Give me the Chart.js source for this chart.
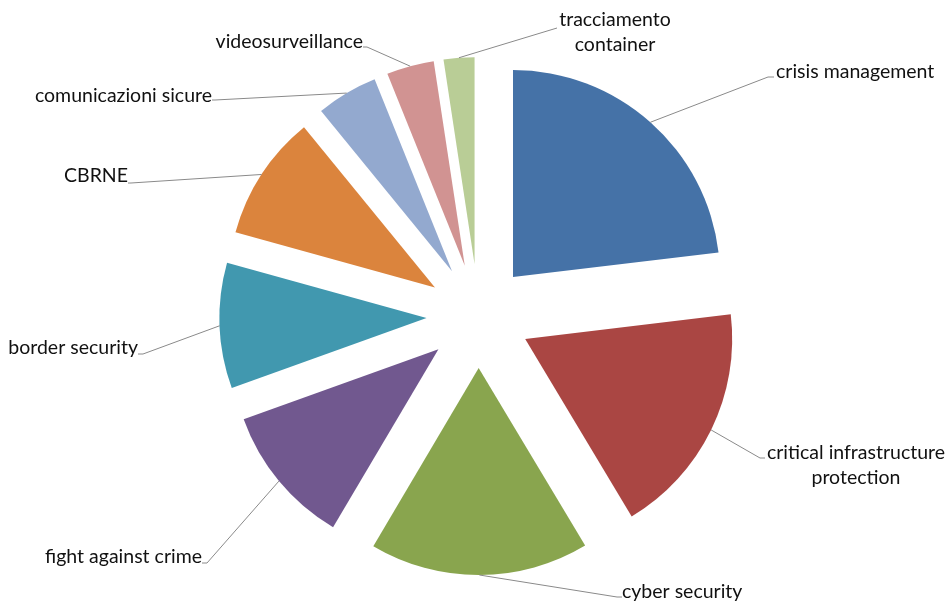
<!DOCTYPE html>
<html>
<head>
<meta charset="utf-8">
<script src="https://cdn.jsdelivr.net/npm/chart.js@4.4.1/dist/chart.umd.min.js"></script>
<style>
  html, body { margin: 0; padding: 0; background: #fff; }
  #wrap { width: 950px; height: 604px; position: relative; }
</style>
</head>
<body>
<div id="wrap"><canvas id="torta"></canvas></div>
<script>
// categorie (testo delle etichette, a capo dove serve)
const categorie = [
  "crisis management",
  ["critical infrastructure", "protection"],
  "cyber security",
  "fight against crime",
  "border security",
  "CBRNE",
  "comunicazioni sicure",
  "videosurveillance",
  ["tracciamento", "container"]
];
// quote (%)
const quote = [23.1, 18.3, 17.1, 11.0, 9.8, 9.8, 4.8, 3.7, 2.4];
const colori = ["#4572A7", "#AA4643", "#89A54E", "#71588F", "#4198AF",
                "#DB843D", "#93A9CF", "#D19392", "#B9CD96"];

// posizione delle etichette rispetto al centro della torta (come in Excel)
const layoutEtichette = [
  { end: [289.5, -239], tick: 6,  text: [297.5, -244], align: "left" },
  { end: [281.5, 142],  tick: 5,  text: [377.5, 137],  align: "center" },
  { end: [138.5, 281],  tick: 5,  text: [143.5, 276],  align: "left" },
  { end: [-271.5, 247], tick: -5, text: [-276.5, 241], align: "right" },
  { end: [-335.5, 38],  tick: -5, text: [-340.5, 32],  align: "right" },
  { end: [-347.5, -133], tick: -3, text: [-350.5, -140], align: "right" },
  { end: [-263.5, -216], tick: -3, text: [-266.5, -220], align: "right" },
  { end: [-111.5, -269], tick: -4, text: [-115.5, -274], align: "right" },
  { end: [78.5, -288],  tick: 0,  text: [136.5, -296], align: "center" }
];

// fette esplose disegnate a mano: l'offset di Chart.js deforma le fette piccole
const esploso = {
  id: 'esploso',
  beforeDatasetDraw(chart, args, opts) {
    const ctx = chart.ctx;
    args.meta.data.forEach(arc => {
      const p = arc.getProps(['x', 'y', 'startAngle', 'endAngle', 'outerRadius'], true);
      const mid = (p.startAngle + p.endAngle) / 2;
      const cx = p.x + Math.cos(mid) * opts.distanza;
      const cy = p.y + Math.sin(mid) * opts.distanza;
      ctx.beginPath();
      ctx.moveTo(cx, cy);
      ctx.arc(cx, cy, p.outerRadius, p.startAngle, p.endAngle);
      ctx.closePath();
      ctx.fillStyle = arc.options.backgroundColor;
      ctx.fill();
    });
    return false;
  },
  afterDraw(chart, args, opts) {
    const ctx = chart.ctx;
    const meta = chart.getDatasetMeta(0);
    ctx.save();
    meta.data.forEach((arc, i) => {
      const p = arc.getProps(['x', 'y', 'startAngle', 'endAngle', 'outerRadius'], true);
      const mid = (p.startAngle + p.endAngle) / 2;
      const r = p.outerRadius + opts.distanza;
      const L = layoutEtichette[i];
      const ex = p.x + L.end[0], ey = p.y + L.end[1];
      // linea guida
      ctx.strokeStyle = "#8a8a8a";
      ctx.lineWidth = 1;
      ctx.beginPath();
      ctx.moveTo(p.x + Math.cos(mid) * r, p.y + Math.sin(mid) * r);
      ctx.lineTo(ex, ey);
      if (L.tick) ctx.lineTo(ex + L.tick, ey);
      ctx.stroke();
      // testo
      ctx.fillStyle = "#111111";
      ctx.font = "19.5px Lato";
      ctx.textAlign = L.align;
      ctx.textBaseline = "middle";
      const righe = [].concat(chart.data.labels[i]);
      righe.forEach((t, k) => {
        ctx.fillText(t, p.x + L.text[0], p.y + L.text[1] + k * 25);
      });
    });
    ctx.restore();
  }
};

new Chart(document.getElementById("torta"), {
  type: 'pie',
  data: {
    labels: categorie,
    datasets: [{
      data: quote,
      backgroundColor: colori,
      borderWidth: 0
    }]
  },
  options: {
    responsive: true,
    maintainAspectRatio: false,
    animation: false,
    radius: 207,
    layout: { padding: { left: 7, top: 28 } },
    plugins: {
      legend: { display: false },
      tooltip: { enabled: false },
      esploso: { distanza: 52 }
    }
  },
  plugins: [esploso]
});
</script>
</body>
</html>
